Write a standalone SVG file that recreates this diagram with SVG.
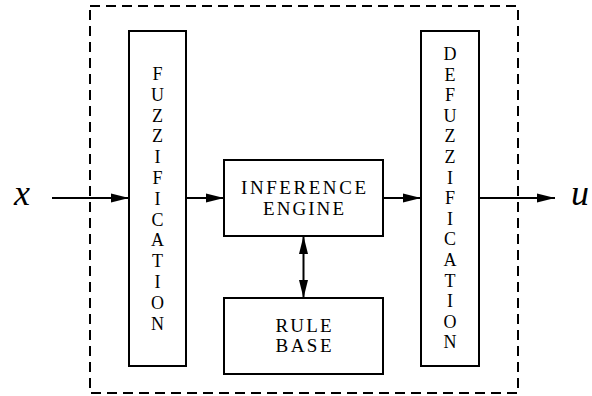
<svg xmlns="http://www.w3.org/2000/svg" width="592" height="396" viewBox="0 0 592 396">
  <style>
    .box { fill: #fff; stroke: #000; stroke-width: 2; }
    .frame { fill: none; stroke: #000; stroke-width: 2; stroke-dasharray: 10 6; }
    .edge { stroke: #000; stroke-width: 2; fill: none; }
    text { font-family: "Liberation Serif", "DejaVu Serif", serif; fill: #000; text-anchor: middle; }
    .var { font-size: 36px; font-style: italic; }
    .vl { font-size: 18px; }
    .lbl { font-size: 19px; }
  </style>
  <defs>
    <marker id="ah" markerUnits="userSpaceOnUse" markerWidth="18" markerHeight="10" refX="18" refY="5" orient="auto-start-reverse">
      <path d="M0,0.5 L18,5 L0,9.5 z" fill="#000"/>
    </marker>
  </defs>

  <rect id="controller-frame" class="frame" x="90" y="6" width="428" height="387"/>

  <g id="connectors">
    <line class="edge" x1="52" y1="198" x2="129" y2="198" marker-end="url(#ah)"/>
    <line class="edge" x1="186" y1="198" x2="224" y2="198" marker-end="url(#ah)"/>
    <line class="edge" x1="383" y1="198" x2="421" y2="198" marker-end="url(#ah)"/>
    <line class="edge" x1="479" y1="198" x2="555" y2="198" marker-end="url(#ah)"/>
    <line class="edge" x1="303.5" y1="236" x2="303.5" y2="298" marker-start="url(#ah)" marker-end="url(#ah)"/>
  </g>

  <g id="input-x">
    <text class="var" x="22" y="205">x</text>
  </g>
  <g id="output-u">
    <text class="var" x="580" y="205">u</text>
  </g>

  <g id="fuzzification">
    <rect class="box" x="129" y="31" width="57" height="335"/>
    <text class="vl" x="157.5" y="80">F</text>
    <text class="vl" x="157.5" y="100.8">U</text>
    <text class="vl" x="157.5" y="121.6">Z</text>
    <text class="vl" x="157.5" y="142.4">Z</text>
    <text class="vl" x="157.5" y="163.2">I</text>
    <text class="vl" x="157.5" y="184">F</text>
    <text class="vl" x="157.5" y="204.8">I</text>
    <text class="vl" x="157.5" y="225.6">C</text>
    <text class="vl" x="157.5" y="246.4">A</text>
    <text class="vl" x="157.5" y="267.2">T</text>
    <text class="vl" x="157.5" y="288">I</text>
    <text class="vl" x="157.5" y="308.8">O</text>
    <text class="vl" x="157.5" y="329.6">N</text>
  </g>

  <g id="inference-engine">
    <rect class="box" x="224" y="160" width="159" height="76"/>
    <text class="lbl" x="303.5" y="194" textLength="125" lengthAdjust="spacing">INFERENCE</text>
    <text class="lbl" x="303.5" y="215" textLength="81" lengthAdjust="spacing">ENGINE</text>
  </g>

  <g id="rule-base">
    <rect class="box" x="224" y="298" width="159" height="76"/>
    <text class="lbl" x="303.5" y="332" textLength="56" lengthAdjust="spacing">RULE</text>
    <text class="lbl" x="303.5" y="352" textLength="56" lengthAdjust="spacing">BASE</text>
  </g>

  <g id="defuzzification">
    <rect class="box" x="421" y="31" width="58" height="335"/>
    <text class="vl" x="450" y="60">D</text>
    <text class="vl" x="450" y="80.6">E</text>
    <text class="vl" x="450" y="101.2">F</text>
    <text class="vl" x="450" y="121.8">U</text>
    <text class="vl" x="450" y="142.4">Z</text>
    <text class="vl" x="450" y="163">Z</text>
    <text class="vl" x="450" y="183.6">I</text>
    <text class="vl" x="450" y="204.2">F</text>
    <text class="vl" x="450" y="224.8">I</text>
    <text class="vl" x="450" y="245.4">C</text>
    <text class="vl" x="450" y="266">A</text>
    <text class="vl" x="450" y="286.6">T</text>
    <text class="vl" x="450" y="307.2">I</text>
    <text class="vl" x="450" y="327.8">O</text>
    <text class="vl" x="450" y="348.4">N</text>
  </g>
</svg>
